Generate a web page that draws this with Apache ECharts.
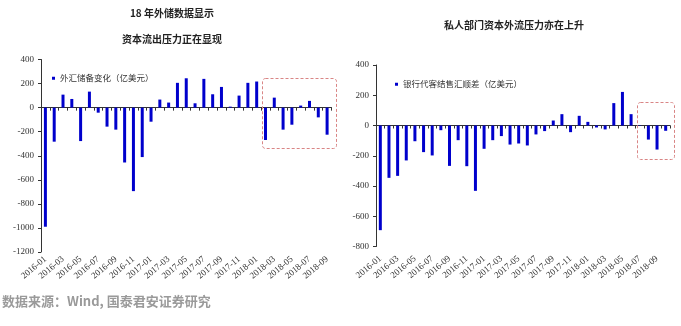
<!DOCTYPE html>
<html><head><meta charset="utf-8">
<script src="https://cdn.jsdelivr.net/npm/echarts@6/dist/echarts.min.js"></script>
<style>html,body{margin:0;padding:0;background:#fff;}#c{width:681px;height:326px;}</style>
</head><body><div id="c"></div>
<script>
// ---- data ----
const monthsLeft = ['2016-01','2016-02','2016-03','2016-04','2016-05','2016-06','2016-07','2016-08','2016-09','2016-10','2016-11','2016-12',
  '2017-01','2017-02','2017-03','2017-04','2017-05','2017-06','2017-07','2017-08','2017-09','2017-10','2017-11','2017-12',
  '2018-01','2018-02','2018-03','2018-04','2018-05','2018-06','2018-07','2018-08','2018-09'];
const reserveChange = [-990,-283,108,72,-278,133,-42,-158,-183,-456,-694,-411,
  -117,67,42,206,244,36,239,111,172,8,100,206,
  217,-269,83,-183,-142,17,56,-81,-225];
const monthsRight = ['2016-01','2016-02','2016-03','2016-04','2016-05','2016-06','2016-07','2016-08','2016-09','2016-10','2016-11','2016-12',
  '2017-01','2017-02','2017-03','2017-04','2017-05','2017-06','2017-07','2017-08','2017-09','2017-10','2017-11','2017-12',
  '2018-01','2018-02','2018-03','2018-04','2018-05','2018-06','2018-07','2018-08','2018-09','2018-10'];
const fxSurplus = [-692,-346,-333,-231,-104,-176,-198,-31,-267,-97,-269,-432,
  -154,-97,-70,-126,-119,-132,-59,-37,33,75,-44,64,
  24,-13,-26,148,222,75,-3,-93,-159,-35];
const yRangeLeft = [-1200, 400];
const yRangeRight = [-800, 400];
const seriesNames = ['外汇储备变化（亿美元）','银行代客结售汇顺差（亿美元）'];
const titlesLeft = ['18 年外储数据显示','资本流出压力正在显现'];
const titleRight = '私人部门资本外流压力亦在上升';
const sourceText = '数据来源：Wind, 国泰君安证券研究';
// highlighted windows: [fromCategory, toCategory, topValue, bottomValue]
const boxLeft = ['2018-02','2018-09',245,-335];
const boxRight = ['2018-07','2018-10',154,-223];

// ---- styles ----
const serif = '"Liberation Serif","DejaVu Serif",serif';
const cjk = '"Noto Sans CJK SC","Noto Sans",sans-serif';
const barColor = '#0000CC';
const axisColor = '#333';

function catAxes(gridIndex, data, margin) {
  return [
    {type:'category', gridIndex, data, position:'bottom',
     axisLine:{show:false, onZero:false}, axisTick:{show:false},
     axisLabel:{interval:1, rotate:40, margin, fontFamily:serif, fontSize:9, color:'#333'},
     splitLine:{show:false}},
    {type:'category', gridIndex, data, position:'bottom',
     axisLine:{show:true, onZero:true, lineStyle:{color:axisColor, width:1}},
     axisTick:{show:true, interval:0, length:3, lineStyle:{color:axisColor}},
     axisLabel:{show:false}, splitLine:{show:false}}
  ];
}
function valAxis(gridIndex, range) {
  return {type:'value', gridIndex, min:range[0], max:range[1], interval:200,
    axisLine:{show:true, lineStyle:{color:axisColor}},
    axisTick:{show:true, length:3, lineStyle:{color:axisColor}},
    axisLabel:{fontFamily:serif, fontSize:9, color:'#333', margin:7, formatter:v => String(v)},
    splitLine:{show:false}};
}
const titleStyle = {fontFamily:cjk, fontSize:10, fontWeight:'bold', color:'#222'};
const legendBase = {padding:0, itemWidth:3, itemHeight:3, icon:'rect', selectedMode:false,
  textStyle:{fontFamily:cjk, fontSize:8.5, color:'#333'}};

const chart = echarts.init(document.getElementById('c'));
chart.setOption({
  animation:false,
  backgroundColor:'#fff',
  title:[
    {text:titlesLeft[0], left:172, top:8.5, textAlign:'center', padding:0, textStyle:titleStyle},
    {text:titlesLeft[1], left:172, top:34, textAlign:'center', padding:0, textStyle:titleStyle},
    {text:titleRight, left:514, top:20.5, textAlign:'center', padding:0, textStyle:titleStyle},
    {text:sourceText, left:2, top:295, padding:0, textStyle:{fontFamily:cjk, fontSize:13, fontWeight:'bold', color:'#9a9a9a'}}
  ],
  legend:[
    Object.assign({}, legendBase, {data:[seriesNames[0]], left:52, top:74}),
    Object.assign({}, legendBase, {data:[seriesNames[1]], left:395, top:80})
  ],
  grid:[
    {left:41, top:59.5, width:290.5, height:192.5},
    {left:376, top:65, width:294, height:181.5}
  ],
  xAxis:[...catAxes(0, monthsLeft, 6), ...catAxes(1, monthsRight, 11)],
  yAxis:[valAxis(0, yRangeLeft), valAxis(1, yRangeRight)],
  series:[
    {type:'bar', name:seriesNames[0], xAxisIndex:0, yAxisIndex:0, data:reserveChange, barWidth:3, itemStyle:{color:barColor}},
    {type:'bar', name:seriesNames[1], xAxisIndex:2, yAxisIndex:1, data:fxSurplus, barWidth:3, itemStyle:{color:barColor}}
  ]
});

function rectFor(xAxisIndex, yAxisIndex, cats, box, offFrom, offTo) {
  const c0 = chart.convertToPixel({xAxisIndex}, cats[0]);
  const c1 = chart.convertToPixel({xAxisIndex}, cats[1]);
  const band = c1 - c0;
  const x0 = chart.convertToPixel({xAxisIndex}, box[0]) + offFrom * band;
  const x1 = chart.convertToPixel({xAxisIndex}, box[1]) + offTo * band;
  const y0 = chart.convertToPixel({yAxisIndex}, box[2]);
  const y1 = chart.convertToPixel({yAxisIndex}, box[3]);
  return {type:'rect', silent:true, z:100,
    shape:{x:Math.round(x0)+0.5, y:Math.round(y0)+0.5, width:Math.round(x1-x0), height:Math.round(y1-y0), r:3},
    style:{fill:'none', stroke:'#D98585', lineWidth:1, lineDash:[3,2]}};
}
chart.setOption({graphic:[
  rectFor(0, 0, monthsLeft, boxLeft, -0.45, 0.9),
  rectFor(2, 1, monthsRight, boxRight, -0.35, 0.95)
]});
</script></body></html>
